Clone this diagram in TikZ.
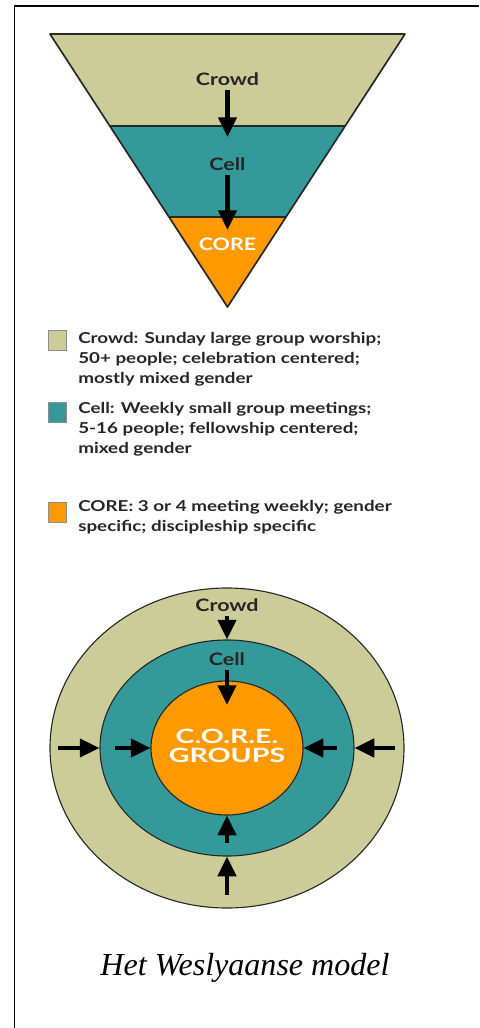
\documentclass[tikz,border=0pt]{standalone}
\usepackage{fontspec}
\setmainfont{Liberation Serif}
\newfontfamily\gillfont{Lato}[FakeStretch=1.25]
\newfontfamily\widefont{Lato}[FakeStretch=1.45]
\usetikzlibrary{arrows.meta}
\usetikzlibrary{calc}
\usetikzlibrary{shapes.geometric}
\definecolor{mcrowd}{RGB}{204,204,153}
\definecolor{mcell}{RGB}{51,153,153}
\definecolor{mcore}{RGB}{255,153,0}
\definecolor{mline}{RGB}{40,40,40}
\tikzset{push/.style = {line width=3.1pt, -{Triangle[width=12.8pt,length=14pt]}}}
\tikzset{ring/.style = {ellipse, draw=mline, line width=0.8pt, inner sep=0pt}}
\tikzset{tag/.style = {font=\gillfont\bfseries\fontsize{12.2}{14.2}\selectfont, text=black!85}}
\tikzset{legtext/.style = {font=\gillfont\bfseries\fontsize{10.7}{14.2}\selectfont, text=black!85,
                           anchor=north west, align=left, inner sep=0pt}}
\tikzset{legbox/.style = {draw=black!45, minimum width=0.45cm, minimum height=0.5cm, inner sep=0pt}}
\tikzset{coretext/.style = {font=\widefont\bfseries\fontsize{14}{13}\selectfont, text=white, align=center}}

\begin{document}
\begin{tikzpicture}
    \useasboundingbox (0, 0) rectangle (11.975, -25.7);
    \draw [line width=1.2pt] (11.975, -0.15) -- (0.3625, -0.15) -- (0.3625, -25.7);

    % funnel
    \coordinate (tl) at (1.25, -0.85);
    \coordinate (tr) at (10.125, -0.85);
    \coordinate (apex) at (5.6875, -7.675);
    \coordinate (ml) at ($(tl)!0.337!(apex)$);
    \coordinate (mr) at ($(tr)!0.337!(apex)$);
    \coordinate (ll) at ($(tl)!0.670!(apex)$);
    \coordinate (lr) at ($(tr)!0.670!(apex)$);

    \fill [mcrowd] (tl) -- (tr) -- (apex) -- cycle;
    \fill [mcell] (ml) -- (mr) -- (apex) -- cycle;
    \fill [mcore] (ll) -- (lr) -- (apex) -- cycle;
    \draw [mline, line width=0.9pt] (ml) -- (mr) (ll) -- (lr);
    \draw [mline, line width=1.2pt, line join=round] (tl) -- (tr) -- (apex) -- cycle;

    \node [tag] (crowdT) at (5.6875, -1.975) {Crowd};
    \node [tag] (cellT) at (5.6875, -4.1) {Cell};
    \node [tag, text=white] (coreT) at (5.6875, -6.1) {CORE};
    \coordinate (crowdtip) at (5.6875, -3.425);
    \coordinate (celltip) at (5.6875, -5.75);
    \draw [push] (crowdT) -- (crowdtip);
    \draw [push] (cellT) -- (celltip);

    % key
    \node [legbox, fill=mcrowd] (keycrowd) at (1.425, -8.5) {};
    \node [legtext] (textcrowd) at (1.95, -8.3) {Crowd: Sunday large group worship;\\50+ people; celebration centered;\\mostly mixed gender};
    \node [legbox, fill=mcell] (keycell) at (1.425, -10.3) {};
    \node [legtext] (textcell) at (1.95, -10.05) {Cell: Weekly small group meetings;\\5-16 people; fellowship centered;\\mixed gender};
    \node [legbox, fill=mcore] (keycore) at (1.425, -12.8) {};
    \node [legtext] (textcore) at (1.95, -12.5) {CORE: 3 or 4 meeting weekly; gender\\specific; discipleship specific};

    % rings
    \node [ring, fill=mcrowd, minimum width=8.85cm, minimum height=8cm] (crowdring) at (5.675, -18.7) {};
    \node [ring, fill=mcell, minimum width=6.35cm, minimum height=5.4cm] (cellring) at (5.675, -18.7) {};
    \node [ring, fill=mcore, minimum width=3.8cm, minimum height=3.35cm] (corering) at (5.675, -18.7) {};

    \node [tag] (crowdC) at (5.675, -15.125) {Crowd};
    \node [tag] (cellC) at (5.675, -16.475) {Cell};
    \node [coretext] (groupsC) at (5.675, -18.65) {C.O.R.E.\\GROUPS};

    \coordinate (cellend) at (5.675, -17.625);
    \coordinate (wout) at (1.45, -18.7);
    \coordinate (win) at (2.875, -18.7);
    \coordinate (ein) at (8.425, -18.7);
    \coordinate (eout) at (9.875, -18.7);
    \coordinate (sin) at (5.675, -21.075);
    \coordinate (sout) at (5.675, -22.375);

    \draw [push] (crowdC) -- (cellring.north);
    \draw [push] (cellC) -- (cellend);
    \draw [push] (wout) -- (cellring.west);
    \draw [push] (win) -- (corering.west);
    \draw [push] (ein) -- (corering.east);
    \draw [push] (eout) -- (cellring.east);
    \draw [push] (sin) -- (corering.south);
    \draw [push] (sout) -- (cellring.south);

    \node [font=\itshape\fontsize{22.8}{26}\selectfont, anchor=base] (caption) at (6.125, -24.375) {Het Weslyaanse model};
\end{tikzpicture}
\end{document}
